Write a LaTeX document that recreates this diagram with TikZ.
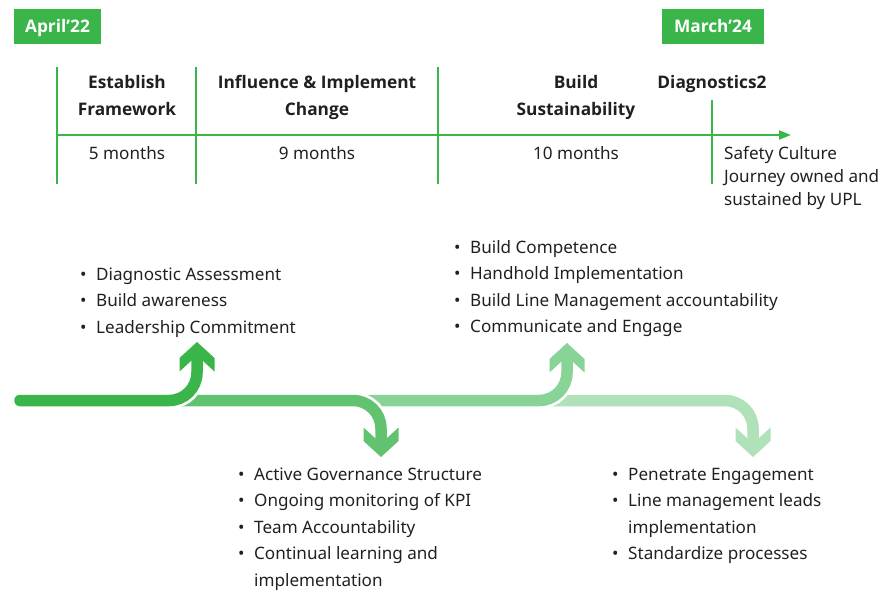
\documentclass[tikz,border=0pt]{standalone}
\usepackage{fontspec}
\setmainfont{Noto Sans}
\newfontfamily\boldfam{Open Sans}
\usetikzlibrary{arrows.meta}
\definecolor{gmain}{HTML}{39B54A}
\definecolor{gA}{HTML}{39B54A}
\definecolor{gB}{HTML}{61C370}
\definecolor{gC}{HTML}{88D497}
\definecolor{gD}{HTML}{B0E2B9}
\definecolor{txt}{HTML}{231F20}
\newcommand\myuphead[3]{\fill[#1] (#2,#3) -- ++(17.5,16) -- ++(0,13.5) -- ++(-17.5,-16) -- ++(-17.5,16) -- ++(0,-13.5) -- cycle;}
\newcommand\mydownhead[3]{\fill[#1] (#2,#3) -- ++(17.5,-16) -- ++(0,-13.5) -- ++(-17.5,16) -- ++(-17.5,-16) -- ++(0,13.5) -- cycle;}
\begin{document}
\begin{tikzpicture}[x=1pt,y=-1pt,
  datebox/.style={fill=gmain, text=white, font=\boldfam\bfseries\fontsize{17.3}{19}\selectfont, minimum height=35pt, inner sep=0pt, text height=12.5pt, text depth=0.5pt},
  tl/.style={draw=gmain, line width=2pt},
  hdr/.style={anchor=base, inner sep=0pt, text=txt, font=\boldfam\bfseries\fontsize{17.3}{27}\selectfont},
  mon/.style={anchor=base, inner sep=0pt, text=txt, font=\fontsize{17.1}{23}\selectfont},
  lst/.style={anchor=base west, inner sep=0pt, text=txt, font=\fontsize{17.1}{26.5}\selectfont},
  halo/.style={draw=white, line width=17pt, line cap=round, rounded corners=28pt},
  band/.style={line width=11.5pt, line cap=round, rounded corners=28pt}
]
\useasboundingbox (0,0) rectangle (891,597);

% date boxes
\node[datebox, minimum width=87pt] (d1) at (57.5,26.5) {April’22};
\node[datebox, minimum width=102pt] (d2) at (713,26.5) {March’24};

% timeline grid
\coordinate (v1t) at (57,67);  \coordinate (v1b) at (57,184);
\coordinate (v2t) at (196,67); \coordinate (v2b) at (196,184);
\coordinate (v3t) at (438,67); \coordinate (v3b) at (438,184);
\coordinate (v4t) at (712,100); \coordinate (v4b) at (712,184);
\coordinate (hs) at (56,135); \coordinate (he) at (791,135);
\draw[tl] (v1t) -- (v1b);
\draw[tl] (v2t) -- (v2b);
\draw[tl] (v3t) -- (v3b);
\draw[tl] (v4t) -- (v4b);
\draw[tl, -{Triangle[length=12pt,width=9pt]}] (hs) -- (he);

% headers
\node[hdr] (h1) at (127,88) {\begin{tabular}[t]{@{}c@{}}Establish\\Framework\end{tabular}};
\node[hdr] (h2) at (317,88) {\begin{tabular}[t]{@{}c@{}}Influence \& Implement\\Change\end{tabular}};
\node[hdr] (h3) at (576,88) {\begin{tabular}[t]{@{}c@{}}Build\\Sustainability\end{tabular}};
\node[hdr] (h4) at (712,88) {Diagnostics2};

% durations
\node[mon] (m1) at (127,159) {5 months};
\node[mon] (m2) at (317,159) {9 months};
\node[mon] (m3) at (576,159) {10 months};
\node[mon, anchor=base west] (m4) at (724,159) {\begin{tabular}[t]{@{}l@{}}Safety Culture\\Journey owned and\\sustained by UPL\end{tabular}};

% bullet lists
\node[lst] (g1) at (80,280) {\begin{tabular}[t]{@{}p{16pt}@{}l@{}}
•&Diagnostic Assessment\\
•&Build awareness\\
•&Leadership Commitment\end{tabular}};
\node[lst] (g2) at (454,253) {\begin{tabular}[t]{@{}p{16pt}@{}l@{}}
•&Build Competence\\
•&Handhold Implementation\\
•&Build Line Management accountability\\
•&Communicate and Engage\end{tabular}};
\node[lst] (g3) at (238,480) {\begin{tabular}[t]{@{}p{16pt}@{}l@{}}
•&Active Governance Structure\\
•&Ongoing monitoring of KPI\\
•&Team Accountability\\
•&Continual learning and\\
&implementation\end{tabular}};
\node[lst] (g4) at (612,480) {\begin{tabular}[t]{@{}p{16pt}@{}l@{}}
•&Penetrate Engagement\\
•&Line management leads\\
&implementation\\
•&Standardize processes\end{tabular}};

% journey arrows (drawn back to front)
\coordinate (a4s) at (552,400.5); \coordinate (a4c) at (753,400.5); \coordinate (a4e) at (753,447);
\coordinate (a3s) at (366,400.5); \coordinate (a3c) at (567,400.5); \coordinate (a3e) at (567,353);
\coordinate (a2s) at (182,400.5); \coordinate (a2c) at (381,400.5); \coordinate (a2e) at (381,447);
\coordinate (a1s) at (20,400.5);  \coordinate (a1c) at (197,400.5); \coordinate (a1e) at (197,352);

\draw[halo] (a4s) -- (a4c) -- (a4e);
\draw[band, draw=gD] (a4s) -- (a4c) -- (a4e);
\mydownhead{gD}{753}{457}

\draw[halo] (a3s) -- (a3c) -- (a3e);
\draw[band, draw=gC] (a3s) -- (a3c) -- (a3e);
\myuphead{gC}{567}{343}

\draw[halo] (a2s) -- (a2c) -- (a2e);
\draw[band, draw=gB] (a2s) -- (a2c) -- (a2e);
\mydownhead{gB}{381}{457}

\draw[halo] (a1s) -- (a1c) -- (a1e);
\draw[band, draw=gA] (a1s) -- (a1c) -- (a1e);
\myuphead{gA}{197}{342}
\end{tikzpicture}
\end{document}
